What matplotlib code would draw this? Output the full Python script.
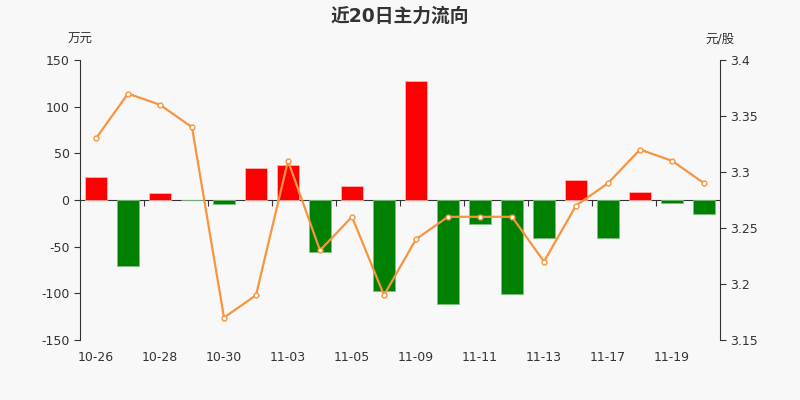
import matplotlib
matplotlib.use("Agg")
import matplotlib.pyplot as plt
import numpy as np

plt.rcParams['font.family'] = ['DejaVu Sans', 'Noto Sans CJK SC']
plt.rcParams['axes.unicode_minus'] = False

dates = ["10-26", "10-27", "10-28", "10-29", "10-30", "11-02", "11-03", "11-04", "11-05", "11-06",
         "11-09", "11-10", "11-11", "11-12", "11-13", "11-16", "11-17", "11-18", "11-19", "11-20"]
flow = [24.6, -71.0, 7.5, -0.5, -4.3, 34.0, 37.5, -56.0, 15.0, -98.0,
        127.5, -111.5, -25.7, -100.7, -40.7, 21.4, -40.7, 8.6, -3.0, -15.0]
price = [3.33, 3.37, 3.36, 3.34, 3.17, 3.19, 3.31, 3.23, 3.26, 3.19,
         3.24, 3.26, 3.26, 3.26, 3.22, 3.27, 3.29, 3.32, 3.31, 3.29]

bg = "#f8f8f8"
txt = "#333333"

fig = plt.figure(figsize=(8, 4), dpi=100, facecolor=bg)
ax = fig.add_axes([0.1, 0.15, 0.8, 0.7])
ax.set_facecolor(bg)

x = np.arange(len(dates))
colors = ["#ff0000" if v >= 0 else "#008000" for v in flow]
edges = ["#ffb3b3" if v >= 0 else "#80c080" for v in flow]
ax.bar(x, flow, width=0.7, color=colors, edgecolor=edges, linewidth=0.6, zorder=2)

ax.set_xlim(-0.5, len(dates) - 0.5)
ax.set_ylim(-150, 150)
ax.set_yticks([-150, -100, -50, 0, 50, 100, 150])
ax.tick_params(axis='y', colors=txt, labelsize=9, length=4, width=0.8)
ax.set_xticks(x[::2])
ax.set_xticklabels(dates[::2])
ax.tick_params(axis='x', length=0, colors=txt, labelsize=9, pad=8)
for s in ["top", "right", "bottom"]:
    ax.spines[s].set_visible(False)
ax.spines["left"].set_color(txt)

# zero line with its own ticks between every second pair of bars
zx = ax.secondary_xaxis(0.5)
zx.set_alignment('bottom')
zx.set_xticks(np.arange(1.5, len(dates) - 1, 2))
zx.set_xticklabels([])
zx.tick_params(length=4, width=0.8, color=txt, direction='out')
zx.spines["bottom"].set_color(txt)

ax2 = ax.twinx()
ax2.plot(x, price, color="#f7943e", linewidth=1.6, marker='o', markersize=3.5,
         markerfacecolor="white", markeredgecolor="#f7943e", markeredgewidth=1, zorder=3)
ax2.set_ylim(3.15, 3.4)
ax2.set_yticks([3.15, 3.2, 3.25, 3.3, 3.35, 3.4])
ax2.set_yticklabels(["3.15", "3.2", "3.25", "3.3", "3.35", "3.4"])
ax2.tick_params(axis='y', colors=txt, labelsize=9, length=4, width=0.8)
for s in ["top", "left", "bottom"]:
    ax2.spines[s].set_visible(False)
ax2.spines["right"].set_color(txt)

fig.text(0.5, 0.96, "近20日主力流向", ha='center', va='center', fontsize=13.5,
         fontweight='bold', color=txt)
fig.text(0.1, 0.902, "万元", ha='center', va='center', fontsize=9, color=txt)
fig.text(0.9, 0.902, "元/股", ha='center', va='center', fontsize=9, color=txt)

fig.savefig("out.png", dpi=100, facecolor=bg)
